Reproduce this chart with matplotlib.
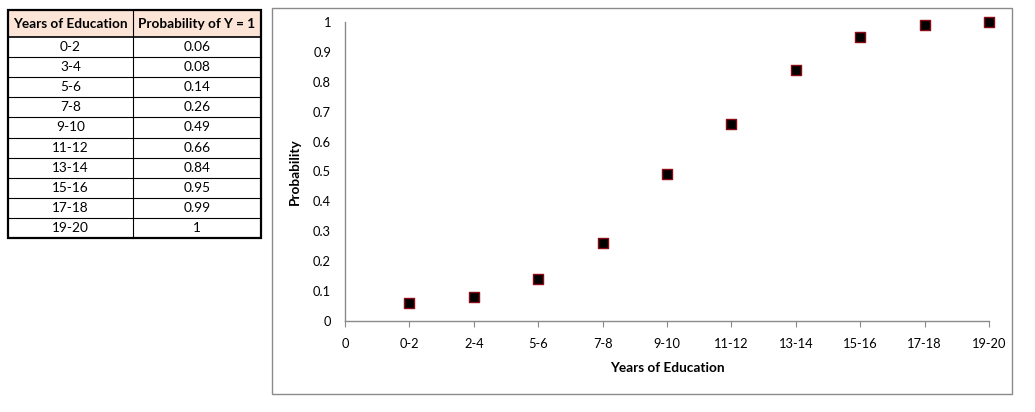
import matplotlib.pyplot as plt
from matplotlib.patches import Rectangle

plt.rcParams['font.family'] = ['Lato', 'DejaVu Sans']

# data for the table
table_years = ['0-2', '3-4', '5-6', '7-8', '9-10', '11-12', '13-14', '15-16', '17-18', '19-20']
table_prob = ['0.06', '0.08', '0.14', '0.26', '0.49', '0.66', '0.84', '0.95', '0.99', '1']
table_header = ['Years of Education', 'Probability of Y = 1']

# data for the chart
chart_labels = ['0-2', '2-4', '5-6', '7-8', '9-10', '11-12', '13-14', '15-16', '17-18', '19-20']
prob = [0.06, 0.08, 0.14, 0.26, 0.49, 0.66, 0.84, 0.95, 0.99, 1.0]
y_ticks = [0, 0.1, 0.2, 0.3, 0.4, 0.5, 0.6, 0.7, 0.8, 0.9, 1]

W, H = 1035, 412
fig = plt.figure(figsize=(W / 100, H / 100), dpi=100)

def fx(px):
    return px / W

def fy(py):
    return 1 - py / H

# ---- table ----
tab_ax = fig.add_axes([0, 0, 1, 1])
tab_ax.set_xlim(0, W)
tab_ax.set_ylim(H, 0)
tab_ax.axis('off')

x0, xm, x1 = 8, 133, 261
y_head_top, y_head_bot, y_end = 10, 37, 238
row_h = (y_end - y_head_bot) / len(table_years)

tab_ax.add_patch(Rectangle((x0, y_head_top), x1 - x0, y_head_bot - y_head_top,
                           facecolor='#FCE4D6', edgecolor='none'))
tab_ax.text((x0 + xm) / 2, (y_head_top + y_head_bot) / 2, table_header[0],
            ha='center', va='center', fontsize=9.8, fontweight='bold')
tab_ax.text((xm + x1) / 2, (y_head_top + y_head_bot) / 2, table_header[1],
            ha='center', va='center', fontsize=9.8, fontweight='bold')

for i, (yr, p) in enumerate(zip(table_years, table_prob)):
    yc = y_head_bot + row_h * (i + 0.5)
    tab_ax.text((x0 + xm) / 2, yc, yr, ha='center', va='center', fontsize=9.8)
    tab_ax.text((xm + x1) / 2, yc, p, ha='center', va='center', fontsize=9.8)
    if i > 0:
        yl = y_head_bot + row_h * i
        tab_ax.plot([x0, x1], [yl, yl], color='black', lw=0.8)

tab_ax.plot([x0, x1], [y_head_bot, y_head_bot], color='black', lw=1.2)
tab_ax.plot([xm, xm], [y_head_top, y_end], color='black', lw=0.8)
tab_ax.add_patch(Rectangle((x0, y_head_top), x1 - x0, y_end - y_head_top,
                           facecolor='none', edgecolor='black', lw=1.6))

# chart frame
tab_ax.add_patch(Rectangle((272, 8), 1012 - 272, 394 - 8,
                           facecolor='none', edgecolor='#8a8a8a', lw=1.0))

# ---- chart ----
ax = fig.add_axes([fx(345), fy(321), fx(989) - fx(345), fy(22) - fy(321)])
xs = list(range(1, len(prob) + 1))
ax.scatter(xs, prob, marker='s', s=60, facecolor='black', edgecolor='#8B0A14',
           linewidth=1.0, zorder=3, clip_on=False)

ax.set_xlim(0, len(prob))
ax.set_ylim(0, 1)
ax.set_xticks([0] + xs)
ax.set_xticklabels(['0'] + chart_labels, fontsize=9.3)
ax.set_yticks(y_ticks)
ax.set_yticklabels([('%g' % v) for v in y_ticks], fontsize=9.3)

for s in ['top', 'right']:
    ax.spines[s].set_visible(False)
for s in ['left', 'bottom']:
    ax.spines[s].set_color('#8a8a8a')
    ax.spines[s].set_linewidth(1.0)
ax.tick_params(axis='y', length=0, pad=10)
ax.tick_params(axis='x', length=4, color='#8a8a8a', pad=8, direction='out')

ax.set_xlabel('Years of Education', fontsize=9.8, fontweight='bold', labelpad=9)
ax.set_ylabel('Probability', fontsize=9.8, fontweight='bold', labelpad=9)

fig.savefig('out.png', dpi=100)
